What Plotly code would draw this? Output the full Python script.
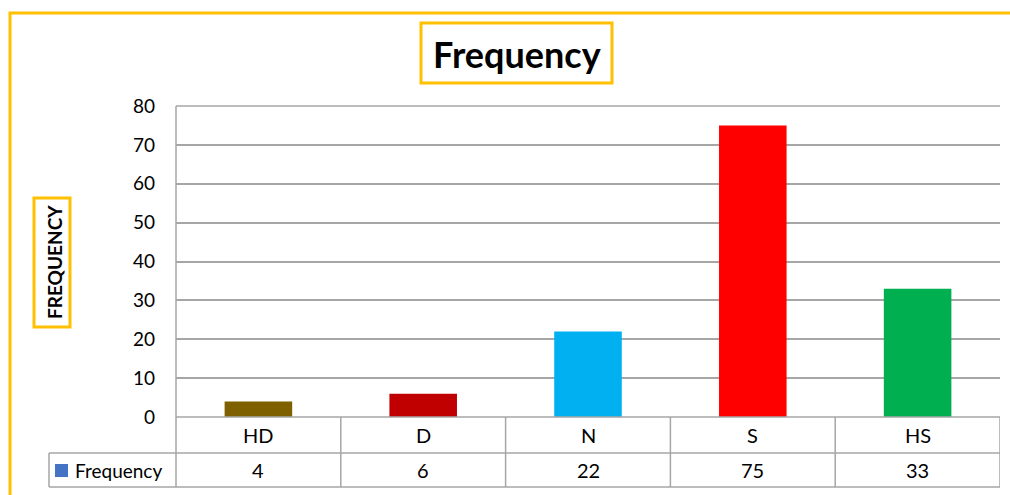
import plotly.graph_objects as go

categories = ["HD", "D", "N", "S", "HS"]
frequency = [4, 6, 22, 75, 33]
bar_colors = ["#7F6000", "#C00000", "#00B0F0", "#FF0000", "#00B050"]
y_ticks = [0, 10, 20, 30, 40, 50, 60, 70, 80]
series_name = "Frequency"
chart_title = "Frequency"
y_title = "FREQUENCY"

W, H = 1010, 495
L, R, T, B = 176, 1000, 106, 417
FONT = "Lato, 'Open Sans', sans-serif"
ORANGE = "#FFC000"
GRID = "#A6A6A6"


def px(x):
    return (x - L) / (R - L)


def py(y):
    return (B - y) / (B - T)


fig = go.Figure()
fig.add_trace(go.Bar(x=list(range(len(categories))), y=frequency, marker_color=bar_colors,
                     marker_line_width=0, name=series_name, showlegend=False,
                     hoverinfo="y"))

shapes = []
annotations = []

# outer chart border (orange, partially visible)
shapes.append(dict(type="rect", xref="paper", yref="paper", x0=px(10), x1=px(1030),
                   y0=py(520), y1=py(13), line=dict(color=ORANGE, width=3)))

# title box
shapes.append(dict(type="rect", xref="paper", yref="paper", x0=px(421), x1=px(612),
                   y0=py(83), y1=py(23), line=dict(color=ORANGE, width=3),
                   fillcolor="white"))
annotations.append(dict(text="<b>" + chart_title + "</b>", xref="paper", yref="paper",
                        x=px(517), y=py(54), showarrow=False,
                        font=dict(family=FONT, size=36, color="black"),
                        xanchor="center", yanchor="middle"))

# y-axis title box
shapes.append(dict(type="rect", xref="paper", yref="paper", x0=px(34), x1=px(70),
                   y0=py(327), y1=py(198), line=dict(color=ORANGE, width=3)))
annotations.append(dict(text="<b>" + y_title + "</b>", xref="paper", yref="paper",
                        x=px(54), y=py(262), showarrow=False, textangle=-90,
                        font=dict(family=FONT, size=19, color="black"),
                        xanchor="center", yanchor="middle"))

# top border of plot area
line_style = dict(color=GRID, width=1.5)
shapes.append(dict(type="line", xref="paper", yref="paper", x0=0, x1=1, y0=1, y1=1, line=line_style))

# data table
row1 = py(453)
row2 = py(487)
shapes.append(dict(type="line", xref="paper", yref="paper", x0=0, x1=1, y0=0, y1=0, line=line_style))
shapes.append(dict(type="line", xref="paper", yref="paper", x0=px(49), x1=1, y0=row1, y1=row1, line=line_style))
shapes.append(dict(type="line", xref="paper", yref="paper", x0=px(49), x1=1, y0=row2, y1=row2, line=line_style))
shapes.append(dict(type="line", xref="paper", yref="paper", x0=px(49), x1=px(49), y0=row1, y1=row2, line=line_style))
shapes.append(dict(type="line", xref="paper", yref="paper", x0=0, x1=0, y0=1, y1=row2, line=line_style))
for i in range(len(categories)):
    xb = i + 0.5
    shapes.append(dict(type="line", xref="x", yref="paper", x0=xb, x1=xb, y0=0, y1=row2, line=line_style))
    annotations.append(dict(text=categories[i], xref="x", yref="paper", x=i, y=row1 / 2,
                            showarrow=False, font=dict(family=FONT, size=20, color="black"),
                            xanchor="center", yanchor="middle"))
    annotations.append(dict(text=str(frequency[i]), xref="x", yref="paper", x=i,
                            y=(row1 + row2) / 2, showarrow=False,
                            font=dict(family=FONT, size=20, color="black"),
                            xanchor="center", yanchor="middle"))

# legend key in table
shapes.append(dict(type="rect", xref="paper", yref="paper", x0=px(55), x1=px(68),
                   y0=py(477), y1=py(464), fillcolor="#4472C4", line=dict(width=0)))
annotations.append(dict(text=series_name, xref="paper", yref="paper", x=px(73),
                        y=(row1 + row2) / 2, showarrow=False,
                        font=dict(family=FONT, size=19, color="black"),
                        xanchor="left", yanchor="middle"))

fig.update_layout(
    width=W, height=H,
    margin=dict(l=L, r=W - R, t=T, b=H - B),
    paper_bgcolor="white", plot_bgcolor="white",
    bargap=0.59,
    showlegend=False,
    shapes=shapes,
    annotations=annotations,
    font=dict(family=FONT, color="black"),
    xaxis=dict(range=[-0.5, len(categories) - 0.5], showticklabels=False, showgrid=False,
               zeroline=False, showline=False, fixedrange=True),
    yaxis=dict(range=[0, 80], tickvals=y_ticks, showgrid=True, gridcolor=GRID, gridwidth=1.5,
               zeroline=False, showline=False, ticks="", ticklabelstandoff=20,
               tickfont=dict(family=FONT, size=19, color="black"), fixedrange=True),
)

fig.write_html("out.html")
